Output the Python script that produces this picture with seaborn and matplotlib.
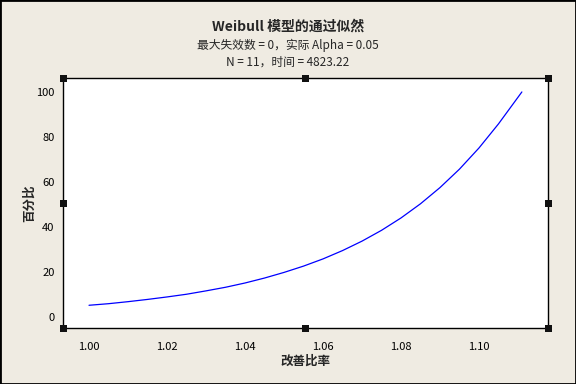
import seaborn as sns
import numpy as np
import pandas as pd
import matplotlib.pyplot as plt
from matplotlib.patches import Rectangle

# values
ratio = [1.000, 1.005, 1.010, 1.015, 1.020, 1.025, 1.030, 1.035, 1.040, 1.045,
         1.050, 1.055, 1.060, 1.065, 1.070, 1.075, 1.080, 1.085, 1.090, 1.095,
         1.100, 1.105, 1.111]
percent = [5.2, 5.9, 6.8, 7.8, 8.9, 10.1, 11.6, 13.2, 15.1, 17.3,
           19.8, 22.6, 25.8, 29.5, 33.7, 38.5, 44.0, 50.3, 57.5, 65.7,
           75.1, 85.8, 100.0]
xticks = [1.00, 1.02, 1.04, 1.06, 1.08, 1.10]
yticks = [0, 20, 40, 60, 80, 100]

sns.set_style('white')
plt.rcParams['font.family'] = ['Noto Sans CJK SC', 'DejaVu Sans']

bg = '#efebe2'
fig = plt.figure(figsize=(5.76, 3.84), dpi=100, facecolor=bg)
ax = fig.add_axes([63/576, 1-328/384, 485/576, 250/384])
ax.set_facecolor('white')

df = pd.DataFrame({'ratio': ratio, 'percent': percent})
sns.lineplot(data=df, x='ratio', y='percent', color='#0000ff', lw=0.9, ax=ax)

ax.set_xlim(0.99333, 1.1177)
ax.set_ylim(-4.9, 106.2)
ax.set_xticks(xticks)
ax.set_xticklabels(['%.2f' % t for t in xticks])
ax.set_yticks(yticks)
ax.tick_params(direction='out', length=4, width=1, colors='black', labelsize=8, pad=2)
ax.tick_params(axis='x', pad=6)
for s in ax.spines.values():
    s.set_color('black')
    s.set_linewidth(1)

ax.set_xlabel('改善比率', fontsize=9, fontweight='bold', labelpad=2)
ax.set_ylabel('百分比', fontsize=9, fontweight='bold', labelpad=0)

fig.text(0.5, 1-27/384, 'Weibull 模型的通过似然', ha='center', va='center',
         fontsize=10, fontweight='bold')
fig.text(0.5, 1-45/384, '最大失效数 = 0，实际 Alpha = 0.05', ha='center', va='center', fontsize=8.5)
fig.text(0.5, 1-62/384, 'N = 11，时间 = 4823.22', ha='center', va='center', fontsize=8.5)

# selection handles on the plot frame
hw, hh = 7/485, 7/250
for hx in (0, 0.5, 1):
    for hy in (0, 0.5, 1):
        if hx == 0.5 and hy == 0.5:
            continue
        ax.add_patch(Rectangle((hx - hw/2, hy - hh/2), hw, hh, transform=ax.transAxes,
                               facecolor='#111111', edgecolor='none', clip_on=False, zorder=5))

# figure border
fig.patches.append(Rectangle((0, 0), 1, 1, transform=fig.transFigure, fill=False,
                             edgecolor='black', lw=2))

fig.savefig('out.png', dpi=100, facecolor=bg)
